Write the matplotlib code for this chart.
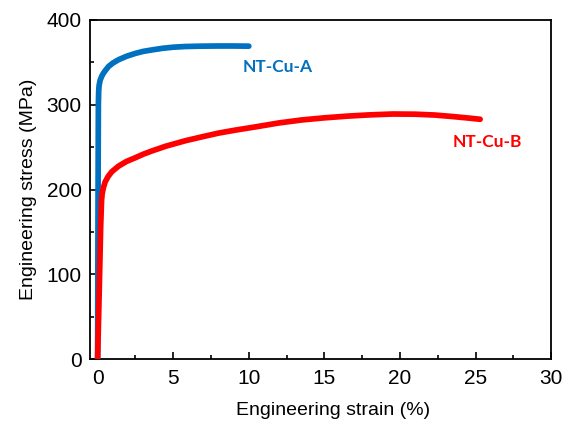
#!/usr/bin/env python3
"""
Engineering stress-strain curves for two nanotwinned Cu samples.
"""

import matplotlib

matplotlib.use("Agg")
import matplotlib.pyplot as plt
from matplotlib.ticker import MultipleLocator


# NT-Cu-A: strain (%) and stress (MPa)
STRAIN_A = [0.0, 0.03, 0.05, 0.07, 0.1, 0.17, 0.27, 0.38, 0.5, 0.72, 1.0, 1.38, 1.9,
            2.5, 3.0, 3.6, 4.3, 5.0, 5.8, 6.8, 8.0, 9.0, 10.0]
STRESS_A = [0, 200, 300, 316, 323, 329, 333.5, 337, 340, 345, 349, 353, 357,
            360.5, 362.8, 364.6, 366.5, 367.8, 368.6, 369, 369.2, 369.2, 369]

# NT-Cu-B
STRAIN_B = [0.0, 0.1, 0.2, 0.26, 0.3, 0.38, 0.5, 0.7, 0.94, 1.38, 1.9, 2.5, 3.0, 3.6,
            4.5, 5.8, 7.0, 8.0, 9.1, 10.5, 12.0, 13.5, 15.0, 16.5, 18.0, 19.5, 21.0,
            22.3, 23.5, 24.5, 25.3]
STRESS_B = [0, 75, 155, 187, 195, 202, 209, 215.5, 221, 227.5, 233, 237.5, 241.5, 245.5,
            251, 257.5, 262.5, 266.5, 270, 274, 278.5, 282, 284.5, 286.5, 288, 289, 288.8,
            287.8, 286, 284.3, 282.8]

LABEL_A = "NT-Cu-A"
LABEL_B = "NT-Cu-B"
COLOR_A = "#0070C0"
COLOR_B = "#FF0000"

X_TICKS = [0, 5, 10, 15, 20, 25, 30]
Y_TICKS = [0, 100, 200, 300, 400]


def main():
    plt.rcParams["font.family"] = ["Liberation Sans", "DejaVu Sans"]

    fig = plt.figure(figsize=(5.7, 4.23), dpi=100)
    ax = fig.add_axes([0.158, 0.151, 0.809, 0.802])

    ax.plot(STRAIN_A, STRESS_A, color=COLOR_A, lw=4.1, solid_capstyle="round",
            solid_joinstyle="round", zorder=3)
    ax.plot(STRAIN_B, STRESS_B, color=COLOR_B, lw=4.1, solid_capstyle="round",
            solid_joinstyle="round", zorder=4)

    label_font = dict(family=["Lato", "DejaVu Sans"], fontweight="bold", fontsize=12.5)
    ax.text(9.6, 345, LABEL_A, color=COLOR_A, va="center", ha="left", **label_font)
    ax.text(23.5, 256, LABEL_B, color=COLOR_B, va="center", ha="left", **label_font)

    ax.set_xlim(-0.5, 30)
    ax.set_ylim(0, 400)
    ax.set_xticks(X_TICKS)
    ax.set_yticks(Y_TICKS)
    ax.xaxis.set_minor_locator(MultipleLocator(2.5))
    ax.yaxis.set_minor_locator(MultipleLocator(50))

    ax.tick_params(which="major", direction="in", length=5, width=1.2,
                   labelsize=15, pad=6)
    ax.tick_params(which="minor", direction="in", length=3, width=1.2)
    ax.tick_params(axis="x", which="major", pad=7)
    for spine in ax.spines.values():
        spine.set_linewidth(1.3)

    ax.set_xlabel("Engineering strain (%)", fontsize=14)
    ax.set_ylabel("Engineering stress (MPa)", fontsize=14)
    ax.xaxis.set_label_coords(0.527, -0.125)
    ax.yaxis.set_label_coords(-0.115, 0.5)

    fig.savefig("out.png", dpi=100)
    plt.close(fig)


if __name__ == "__main__":
    main()
